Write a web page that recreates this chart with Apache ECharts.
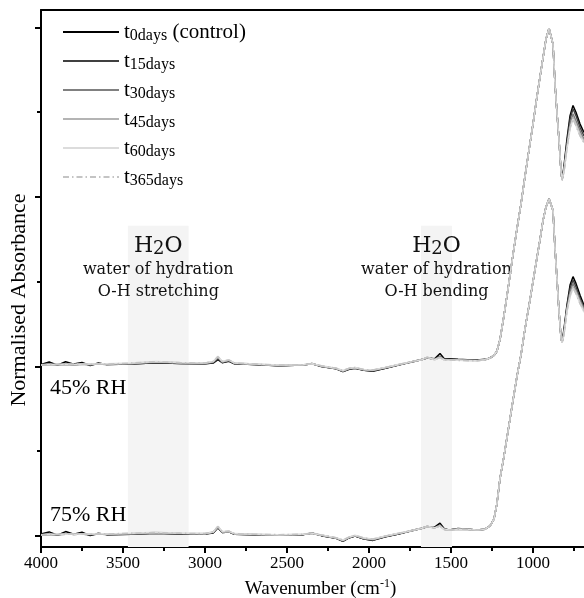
<!DOCTYPE html>
<html lang="en">
<head>
<meta charset="UTF-8">
<meta name="viewport" content="width=device-width, initial-scale=1.0">
<title>Normalised FTIR spectra</title>
<script src="https://cdn.jsdelivr.net/npm/echarts@6/dist/echarts.min.js"></script>
<style>
html, body { margin: 0; padding: 0; background: #fff; }
#chart { width: 584px; height: 598px; }
</style>
</head>
<body>
<div id="chart"></div>
<script>
// wavenumber grid shared by every spectrum (cm-1, high to low)
const wavenumbers = [4000, 3950, 3900, 3850, 3800, 3750, 3700, 3650, 3600,
  3450, 3300, 3150, 3000,
  2950, 2921, 2895, 2854, 2820,
  2700, 2550, 2400, 2348, 2290,
  2200, 2159, 2120, 2085, 2030,
  1976, 1900, 1820, 1732, 1680,
  1646, 1600, 1567, 1540, 1510,
  1457, 1400, 1340, 1293, 1262,
  1238, 1220, 1201, 1177, 1152,
  1122, 1098, 1073, 1049, 1024,
  1000, 976, 957, 939, 921,
  902, 890, 878, 866, 854,
  841, 829, 823, 811, 793,
  774, 756, 738, 713, 689];

// 45% RH set (sits one unit up, as in the figure)
const rh45_t0 = [1.012, 1.026, 1.008, 1.028, 1.014, 1.024, 1.006, 1.020, 1.012,
  1.014, 1.022, 1.018, 1.016,
  1.020, 1.040, 1.022, 1.030, 1.016,
  1.012, 1.004, 1.008, 1.018, 1.000,
  0.986, 0.970, 0.984, 0.990, 0.978,
  0.972, 0.990, 1.008, 1.030, 1.042,
  1.050, 1.046, 1.076, 1.044, 1.046,
  1.042, 1.040, 1.038, 1.042, 1.050,
  1.065, 1.09, 1.16, 1.30, 1.46,
  1.66, 1.81, 1.96, 2.12, 2.28,
  2.43, 2.59, 2.71, 2.82, 2.93,
  2.995, 2.99, 2.90, 2.67, 2.50,
  2.33, 2.15, 2.10, 2.18, 2.34,
  2.48, 2.54, 2.50, 2.43, 2.38];
const rh45_t15 = [1.008, 1.014, 1.010, 1.016, 1.010, 1.014, 1.010, 1.014, 1.012,
  1.014, 1.022, 1.018, 1.016,
  1.022, 1.046, 1.024, 1.032, 1.016,
  1.012, 1.004, 1.008, 1.016, 1.000,
  0.986, 0.970, 0.986, 0.990, 0.978,
  0.974, 0.990, 1.008, 1.028, 1.040,
  1.050, 1.044, 1.060, 1.042, 1.042,
  1.040, 1.038, 1.036, 1.040, 1.050,
  1.065, 1.09, 1.16, 1.30, 1.46,
  1.66, 1.81, 1.96, 2.12, 2.28,
  2.43, 2.59, 2.71, 2.82, 2.93,
  2.995, 2.99, 2.90, 2.67, 2.50,
  2.33, 2.15, 2.10, 2.17, 2.32,
  2.46, 2.52, 2.48, 2.41, 2.36];
const rh45_t30 = [1.008, 1.010, 1.010, 1.012, 1.010, 1.012, 1.012, 1.014, 1.014,
  1.016, 1.026, 1.020, 1.018,
  1.026, 1.054, 1.026, 1.036, 1.018,
  1.012, 1.006, 1.008, 1.016, 1.002,
  0.988, 0.972, 0.988, 0.992, 0.980,
  0.976, 0.992, 1.010, 1.028, 1.040,
  1.052, 1.042, 1.056, 1.040, 1.040,
  1.038, 1.036, 1.036, 1.040, 1.050,
  1.066, 1.09, 1.16, 1.30, 1.46,
  1.66, 1.81, 1.96, 2.12, 2.28,
  2.43, 2.59, 2.71, 2.82, 2.93,
  2.995, 2.99, 2.90, 2.67, 2.50,
  2.33, 2.15, 2.10, 2.16, 2.30,
  2.43, 2.49, 2.45, 2.39, 2.34];
const rh45_t45 = [1.010, 1.012, 1.012, 1.012, 1.012, 1.014, 1.012, 1.014, 1.014,
  1.018, 1.028, 1.022, 1.020,
  1.028, 1.058, 1.028, 1.038, 1.020,
  1.014, 1.006, 1.010, 1.016, 1.002,
  0.988, 0.974, 0.988, 0.992, 0.980,
  0.978, 0.994, 1.010, 1.030, 1.040,
  1.054, 1.040, 1.054, 1.038, 1.038,
  1.038, 1.036, 1.034, 1.040, 1.050,
  1.066, 1.09, 1.16, 1.30, 1.46,
  1.66, 1.81, 1.96, 2.12, 2.28,
  2.43, 2.59, 2.71, 2.82, 2.93,
  2.995, 2.99, 2.90, 2.67, 2.50,
  2.33, 2.15, 2.10, 2.15, 2.29,
  2.41, 2.47, 2.43, 2.37, 2.33];
const rh45_t60 = [1.010, 1.012, 1.012, 1.014, 1.012, 1.014, 1.014, 1.016, 1.016,
  1.020, 1.030, 1.024, 1.020,
  1.030, 1.060, 1.030, 1.040, 1.020,
  1.014, 1.008, 1.010, 1.016, 1.004,
  0.990, 0.976, 0.990, 0.994, 0.982,
  0.980, 0.994, 1.012, 1.030, 1.040,
  1.054, 1.040, 1.052, 1.038, 1.036,
  1.036, 1.034, 1.034, 1.040, 1.050,
  1.066, 1.09, 1.16, 1.30, 1.46,
  1.66, 1.81, 1.96, 2.12, 2.28,
  2.43, 2.59, 2.71, 2.82, 2.93,
  2.995, 2.99, 2.90, 2.67, 2.50,
  2.33, 2.15, 2.10, 2.15, 2.28,
  2.40, 2.46, 2.42, 2.36, 2.32];
const rh45_t365 = [1.010, 1.012, 1.014, 1.012, 1.014, 1.014, 1.012, 1.016, 1.014,
  1.020, 1.028, 1.022, 1.020,
  1.030, 1.058, 1.030, 1.038, 1.020,
  1.014, 1.008, 1.010, 1.018, 1.004,
  0.990, 0.976, 0.990, 0.994, 0.982,
  0.980, 0.994, 1.012, 1.030, 1.042,
  1.054, 1.042, 1.054, 1.038, 1.038,
  1.036, 1.034, 1.034, 1.040, 1.050,
  1.066, 1.09, 1.16, 1.30, 1.46,
  1.66, 1.81, 1.96, 2.12, 2.28,
  2.43, 2.59, 2.71, 2.82, 2.93,
  2.995, 2.99, 2.90, 2.67, 2.50,
  2.33, 2.15, 2.10, 2.15, 2.29,
  2.41, 2.46, 2.42, 2.36, 2.32];

// 75% RH set
const rh75_t0 = [0.012, 0.024, 0.004, 0.026, 0.010, 0.022, 0.002, 0.016, 0.008,
  0.010, 0.016, 0.012, 0.012,
  0.018, 0.048, 0.020, 0.024, 0.010,
  0.008, 0.004, 0.008, 0.018, 0.002,
  -0.014, -0.032, -0.010, 0.000, -0.018,
  -0.026, -0.004, 0.012, 0.034, 0.046,
  0.056, 0.052, 0.076, 0.042, 0.036,
  0.044, 0.040, 0.036, 0.040, 0.060,
  0.10, 0.19, 0.34, 0.47, 0.62,
  0.80, 0.94, 1.07, 1.22, 1.36,
  1.50, 1.64, 1.75, 1.86, 1.94,
  1.99, 1.98, 1.92, 1.70, 1.52,
  1.32, 1.17, 1.14, 1.22, 1.36,
  1.48, 1.53, 1.49, 1.42, 1.36];
const rh75_t15 = [0.006, 0.012, 0.006, 0.014, 0.008, 0.012, 0.006, 0.012, 0.008,
  0.010, 0.016, 0.012, 0.012,
  0.020, 0.050, 0.020, 0.024, 0.010,
  0.008, 0.004, 0.008, 0.016, 0.002,
  -0.014, -0.030, -0.010, 0.000, -0.018,
  -0.024, -0.004, 0.012, 0.032, 0.044,
  0.054, 0.050, 0.064, 0.040, 0.036,
  0.042, 0.040, 0.036, 0.040, 0.060,
  0.10, 0.19, 0.34, 0.47, 0.62,
  0.80, 0.94, 1.07, 1.22, 1.36,
  1.50, 1.64, 1.75, 1.86, 1.94,
  1.99, 1.98, 1.92, 1.70, 1.52,
  1.32, 1.17, 1.14, 1.21, 1.35,
  1.46, 1.51, 1.47, 1.40, 1.35];
const rh75_t30 = [0.006, 0.008, 0.008, 0.010, 0.010, 0.010, 0.010, 0.012, 0.012,
  0.012, 0.018, 0.014, 0.012,
  0.022, 0.054, 0.022, 0.026, 0.012,
  0.008, 0.006, 0.008, 0.016, 0.004,
  -0.012, -0.028, -0.008, 0.002, -0.016,
  -0.022, -0.002, 0.014, 0.032, 0.044,
  0.054, 0.048, 0.060, 0.038, 0.036,
  0.040, 0.038, 0.036, 0.040, 0.060,
  0.10, 0.19, 0.34, 0.47, 0.62,
  0.80, 0.94, 1.07, 1.22, 1.36,
  1.50, 1.64, 1.75, 1.86, 1.94,
  1.99, 1.98, 1.92, 1.70, 1.52,
  1.32, 1.17, 1.14, 1.20, 1.34,
  1.44, 1.49, 1.45, 1.39, 1.34];
const rh75_t45 = [0.008, 0.010, 0.008, 0.010, 0.010, 0.012, 0.010, 0.012, 0.012,
  0.014, 0.020, 0.016, 0.014,
  0.024, 0.056, 0.024, 0.028, 0.012,
  0.010, 0.006, 0.010, 0.016, 0.004,
  -0.012, -0.026, -0.008, 0.002, -0.014,
  -0.020, -0.002, 0.014, 0.034, 0.044,
  0.056, 0.048, 0.058, 0.038, 0.036,
  0.040, 0.038, 0.036, 0.040, 0.060,
  0.10, 0.19, 0.34, 0.47, 0.62,
  0.80, 0.94, 1.07, 1.22, 1.36,
  1.50, 1.64, 1.75, 1.86, 1.94,
  1.99, 1.98, 1.92, 1.70, 1.52,
  1.32, 1.17, 1.14, 1.19, 1.33,
  1.42, 1.47, 1.44, 1.38, 1.33];
const rh75_t60 = [0.008, 0.010, 0.010, 0.012, 0.010, 0.012, 0.012, 0.014, 0.012,
  0.016, 0.022, 0.016, 0.014,
  0.024, 0.058, 0.026, 0.028, 0.014,
  0.010, 0.008, 0.010, 0.016, 0.006,
  -0.010, -0.024, -0.006, 0.004, -0.012,
  -0.018, 0.000, 0.016, 0.034, 0.046,
  0.056, 0.048, 0.058, 0.038, 0.036,
  0.040, 0.038, 0.036, 0.040, 0.060,
  0.10, 0.19, 0.34, 0.47, 0.62,
  0.80, 0.94, 1.07, 1.22, 1.36,
  1.50, 1.64, 1.75, 1.86, 1.94,
  1.99, 1.98, 1.92, 1.70, 1.52,
  1.32, 1.17, 1.14, 1.19, 1.32,
  1.41, 1.46, 1.43, 1.37, 1.32];
const rh75_t365 = [0.008, 0.010, 0.010, 0.012, 0.012, 0.012, 0.010, 0.014, 0.012,
  0.016, 0.020, 0.016, 0.014,
  0.024, 0.056, 0.026, 0.028, 0.014,
  0.010, 0.008, 0.010, 0.018, 0.006,
  -0.010, -0.024, -0.006, 0.004, -0.012,
  -0.018, 0.000, 0.016, 0.034, 0.046,
  0.056, 0.050, 0.060, 0.040, 0.036,
  0.040, 0.038, 0.036, 0.040, 0.060,
  0.10, 0.19, 0.34, 0.47, 0.62,
  0.80, 0.94, 1.07, 1.22, 1.36,
  1.50, 1.64, 1.75, 1.86, 1.94,
  1.99, 1.98, 1.92, 1.70, 1.52,
  1.32, 1.17, 1.14, 1.19, 1.33,
  1.42, 1.47, 1.43, 1.37, 1.33];

const seriesNames = ['t0', 't15', 't30', 't45', 't60', 't365'];
const legendSubs = ['0days', '15days', '30days', '45days', '60days', '365days'];
const lineColors = ['#000000', '#404040', '#808080', '#b4b4b4', '#dcdcdc', '#c4c4c4'];
const rh45 = [rh45_t0, rh45_t15, rh45_t30, rh45_t45, rh45_t60, rh45_t365];
const rh75 = [rh75_t0, rh75_t15, rh75_t30, rh75_t45, rh75_t60, rh75_t365];

// axis ticks and shaded water bands
const xMajorTicks = [4000, 3500, 3000, 2500, 2000, 1500, 1000];
const xMinorTicks = [3750, 3250, 2750, 2250, 1750, 1250, 750];
const yMajorTicks = [0, 1, 2, 3];
const yMinorTicks = [0.5, 1.5, 2.5];
const bandFrom = [3470, 1683];
const bandTo = [3100, 1494];
const bandTop = [1.83, 1.83];
const bandNote = ['O-H stretching', 'O-H bending'];

const xMin = 689, xMax = 4000, yMin = -0.065, yMax = 3.103;
const serif = 'Liberation Serif';
const noteFont = 'DejaVu Serif';

const chart = echarts.init(document.getElementById('chart'));

function makeSeries(name, values, idx) {
  return {
    name: name,
    type: 'line',
    xAxisIndex: 0,
    yAxisIndex: 0,
    symbol: 'none',
    z: 3,
    lineStyle: {
      color: lineColors[idx],
      width: 1.5,
      type: name === 't365' ? [6, 3, 1.5, 3] : 'solid'
    },
    itemStyle: { color: lineColors[idx] },
    data: wavenumbers.map((w, i) => [w, values[i]])
  };
}

const series = [];
seriesNames.forEach((n, i) => series.push(makeSeries(n, rh45[i], i)));
seriesNames.forEach((n, i) => series.push(makeSeries(n, rh75[i], i)));

// shaded bands with their notes, underneath the spectra
series.unshift({
  name: 'bands',
  type: 'line',
  data: [],
  z: 1,
  silent: true,
  markArea: {
    silent: true,
    itemStyle: { color: '#f4f4f4' },
    label: {
      show: true,
      position: 'insideTop',
      distance: 8,
      color: '#111',
      align: 'center',
      fontFamily: noteFont,
      formatter: p => '{h|H}{s|2}{h|O}\n{n|water of hydration}\n{n|' + p.name + '}',
      rich: {
        h: { fontSize: 22, fontFamily: noteFont, color: '#111', lineHeight: 25 },
        s: { fontSize: 18, fontFamily: noteFont, color: '#111', padding: [6, 0, 0, 0] },
        n: { fontSize: 16, fontFamily: noteFont, color: '#111', lineHeight: 22 }
      }
    },
    data: bandFrom.map((f, i) => [
      { name: bandNote[i], xAxis: f, yAxis: yMin },
      { xAxis: bandTo[i], yAxis: bandTop[i] }
    ])
  }
});

const option = {
  animation: false,
  backgroundColor: '#fff',
  grid: { left: 41, right: 0, top: 10, bottom: 51, outerBoundsMode: 'none' },
  legend: {
    data: seriesNames,
    orient: 'vertical',
    left: 62,
    top: 20,
    padding: 0,
    itemWidth: 56,
    itemHeight: 14,
    itemGap: 5,
    itemStyle: { opacity: 0 },
    lineStyle: { width: 2 },
    formatter: name => {
      const i = seriesNames.indexOf(name);
      return '{t|t}{s|' + legendSubs[i] + '}' + (i === 0 ? '{c| (control)}' : '');
    },
    textStyle: {
      fontFamily: serif,
      fontSize: 20,
      color: '#000',
      rich: {
        t: { fontFamily: serif, fontSize: 21, color: '#000', lineHeight: 23 },
        c: { fontFamily: serif, fontSize: 21, color: '#000', lineHeight: 23 },
        s: { fontFamily: serif, fontSize: 16, color: '#000', lineHeight: 16, padding: [8, 0, 0, 0] }
      }
    }
  },
  xAxis: [
    {
      type: 'value', inverse: true, min: xMin, max: xMax, position: 'bottom',
      name: 'Wavenumber (cm{sup|-1})',
      nameLocation: 'middle',
      nameGap: 31,
      nameTextStyle: {
        fontFamily: serif, fontSize: 19, color: '#000', padding: [0, 0, 0, 16],
        rich: { sup: { fontFamily: serif, fontSize: 12, color: '#000', padding: [0, 0, 10, 0] } }
      },
      axisLine: { show: true, onZero: false, lineStyle: { color: '#000', width: 2 } },
      axisTick: { show: true, length: 6, lineStyle: { color: '#000', width: 2 }, customValues: xMajorTicks },
      axisLabel: {
        show: true, margin: 8, fontFamily: serif, fontSize: 17, color: '#000',
        customValues: xMajorTicks, formatter: v => String(v)
      },
      splitLine: { show: false }
    },
    {
      type: 'value', inverse: true, min: xMin, max: xMax, position: 'bottom',
      axisLine: { show: false, onZero: false },
      axisTick: { show: true, length: 4, lineStyle: { color: '#000', width: 2 }, customValues: xMinorTicks },
      axisLabel: { show: false },
      splitLine: { show: false }
    },
    {
      type: 'value', inverse: true, min: xMin, max: xMax, position: 'top',
      axisLine: { show: true, onZero: false, lineStyle: { color: '#000', width: 2 } },
      axisTick: { show: false },
      axisLabel: { show: false },
      splitLine: { show: false }
    }
  ],
  yAxis: [
    {
      type: 'value', min: yMin, max: yMax, position: 'left',
      axisLine: { show: true, onZero: false, lineStyle: { color: '#000', width: 2 } },
      axisTick: { show: true, length: 6, lineStyle: { color: '#000', width: 2 }, customValues: yMajorTicks },
      axisLabel: { show: false },
      splitLine: { show: false }
    },
    {
      type: 'value', min: yMin, max: yMax, position: 'left',
      axisLine: { show: false, onZero: false },
      axisTick: { show: true, length: 4, lineStyle: { color: '#000', width: 2 }, customValues: yMinorTicks },
      axisLabel: { show: false },
      splitLine: { show: false }
    }
  ],
  graphic: [
    {
      type: 'text', x: 19, y: 300, rotation: Math.PI / 2,
      style: { text: 'Normalised Absorbance', fontFamily: serif, fontSize: 22, fill: '#000', align: 'center', verticalAlign: 'middle' }
    },
    { type: 'text', left: 50, top: 377, style: { text: '45% RH', fontFamily: serif, fontSize: 22, fill: '#000' } },
    { type: 'text', left: 50, top: 504, style: { text: '75% RH', fontFamily: serif, fontSize: 22, fill: '#000' } }
  ],
  series: series
};

chart.setOption(option);
window.addEventListener('resize', () => {
  chart.resize();
});
</script>
</body>
</html>
